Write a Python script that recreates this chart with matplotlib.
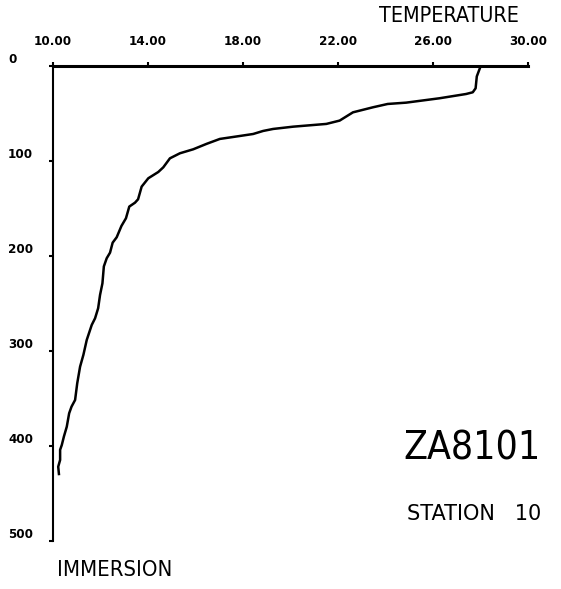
import matplotlib.pyplot as plt

# temperature profile, station 10
temperature = [28.0, 27.85, 27.8, 27.68, 27.4, 26.28, 24.88, 24.1, 23.48, 22.64,
               22.08, 21.52, 20.12, 19.28, 18.86, 18.44, 17.88, 17.04, 16.48, 15.92,
               15.36, 14.94, 14.66, 14.45, 14.03, 13.75, 13.6, 13.47, 13.23, 13.09,
               12.9, 12.7, 12.53, 12.42, 12.28, 12.16, 12.1, 12.0, 11.92, 11.79,
               11.65, 11.44, 11.3, 11.16, 11.04, 10.95, 10.8, 10.7, 10.6, 10.48,
               10.39, 10.32, 10.32, 10.24, 10.27]
depth = [1, 11, 23.5, 27.7, 29.5, 34, 38.6, 40, 43.5, 48.8,
         57.5, 61, 63.9, 66.3, 68.4, 71.6, 73.7, 76.8, 82, 87.7,
         91.9, 97.2, 106.7, 111.6, 118.2, 127, 140.3, 143.9, 148, 160.3,
         168.4, 180.3, 186, 196.5, 202.4, 211, 228.8, 241, 255, 265.6,
         272.6, 288.4, 304, 316.5, 334, 351.6, 358.6, 365.6, 379.7, 390,
         399, 404, 414.7, 421.8, 429.5]

x_ticks = [10, 14, 18, 22, 26, 30]
x_labels = ["10.00", "14.00", "18.00", "22.00", "26.00", "30.00"]
y_ticks = [0, 100, 200, 300, 400, 500]
y_labels = ["0", "100", "200", "300", "400", "500"]

fnt = dict(fontfamily="DejaVu Sans", fontstretch="condensed")

fig = plt.figure(figsize=(5.61, 5.89), dpi=100)
ax = fig.add_axes([0.0936, 0.0815, 0.8474, 0.8065])

ax.plot(temperature, depth, color="black", lw=1.8)

ax.set_xlim(10, 30)
ax.set_ylim(500, 0)
ax.xaxis.tick_top()
ax.set_xticks(x_ticks)
ax.set_xticklabels(x_labels, fontsize=9.5, fontweight="bold", **fnt)
ax.set_yticks(y_ticks)
ax.set_yticklabels(y_labels, fontsize=9.5, fontweight="bold",
                   ha="left", va="bottom", **fnt)
ax.tick_params(axis="x", direction="out", length=3, width=1.5, pad=10)
ax.tick_params(axis="y", direction="out", length=3, width=1.5, pad=29)

ax.spines["right"].set_visible(False)
ax.spines["bottom"].set_visible(False)
ax.spines["top"].set_linewidth(2.2)
ax.spines["left"].set_linewidth(1.5)

fig.text(0.80, 0.973, "TEMPERATURE", fontsize=15.5, ha="center", va="center", **fnt)
fig.text(0.101, 0.032, "IMMERSION", fontsize=15.8, ha="left", va="center", **fnt)
fig.text(0.841, 0.239, "ZA8101", fontsize=28, ha="center", va="center", **fnt)
fig.text(0.846, 0.127, "STATION   10", fontsize=15, ha="center", va="center",
         fontfamily="DejaVu Sans")

fig.savefig("out.png", dpi=100, facecolor="white")
